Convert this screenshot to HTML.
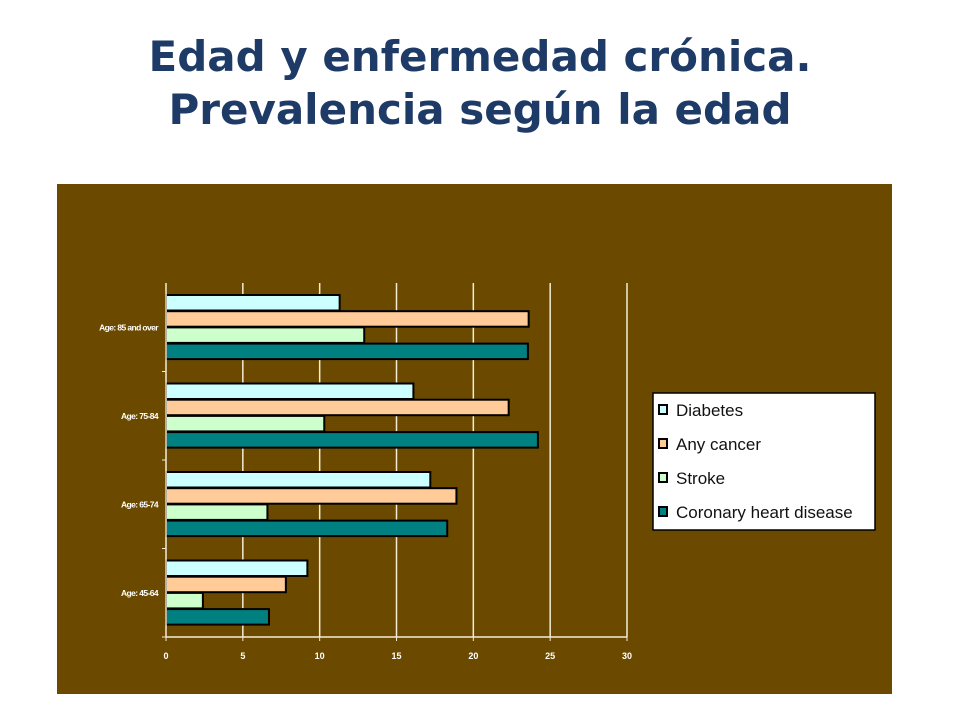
<!DOCTYPE html>
<html><head><meta charset="utf-8"><style>
body{margin:0;width:960px;height:720px;background:#fff;overflow:hidden;font-family:"Liberation Sans",sans-serif}
#title{position:absolute;left:0;top:30px;width:960px;text-align:center;font-family:"DejaVu Sans","Liberation Sans",sans-serif;font-weight:bold;font-size:42px;line-height:53px;color:#1e3a66}
#chart{position:absolute;left:57px;top:184px}
</style></head><body>
<div id="title">Edad y enfermedad crónica.<br>Prevalencia según la edad</div>
<svg id="chart" width="835" height="510" viewBox="57 184 835 510">
<rect x="57" y="184" width="835" height="510" fill="#6b4a00"/>
<g id="grid"></g><g id="bars"></g><g id="axes"></g>
<g>
<rect x="653" y="393" width="222" height="137" fill="#fff" stroke="#000" stroke-width="1.5"/>
<g id="legend"></g></g>
</svg>
<script>
const categories=["Age: 85 and over","Age: 75-84","Age: 65-74","Age: 45-64"];
const seriesNames=["Diabetes","Any cancer","Stroke","Coronary heart disease"];
const diabetes=[11.3,16.1,17.2,9.2];
const cancer=[23.6,22.3,18.9,7.8];
const stroke=[12.9,10.3,6.6,2.4];
const chd=[23.55,24.2,18.3,6.7];
const ticks=[0,5,10,15,20,25,30];
const colors=["#ccffff","#ffcc99","#ccffcc","#008080"];
const series=[diabetes,cancer,stroke,chd];
const NS="http://www.w3.org/2000/svg";
const x0=166,x1=627,y0=283,y1=637,xmax=30;
const xs=v=>x0+(x1-x0)*v/xmax;
const band=(y1-y0)/categories.length;
function mk(t,a,p){const e=document.createElementNS(NS,t);for(const k in a)e.setAttribute(k,a[k]);p.appendChild(e);return e;}
const grid=document.getElementById('grid'),bars=document.getElementById('bars'),axes=document.getElementById('axes'),leg=document.getElementById('legend');
ticks.forEach(t=>{
 if(t>0){const l=mk('line',{x1:xs(t),x2:xs(t),y1:y0,y2:y1,stroke:'#f4ecd8','stroke-width':1.5},grid);
 
 }
 const tx=mk('text',{x:xs(t),y:y1+22,'text-anchor':'middle','font-size':9,'font-weight':'bold',fill:'#fff'},axes);
 tx.textContent=t;
 
 
 mk('line',{x1:xs(t),x2:xs(t),y1:y1,y2:y1+4,stroke:'#f4ecd8'},axes);
});
mk('line',{x1:x0,x2:x0,y1:y0,y2:y1,stroke:'#f4ecd8','stroke-width':1.5},axes);
mk('line',{x1:x0,x2:x1,y1:y1,y2:y1,stroke:'#f4ecd8','stroke-width':1.5},axes);
categories.forEach((c,i)=>{
 const by=y0+i*band;
 mk('line',{x1:x0-4,x2:x0,y1:by+band,y2:by+band,stroke:'#f4ecd8'},axes);
 const tx=mk('text',{x:x0-8,y:by+band/2+3,'text-anchor':'end','font-size':8.5,'font-weight':'bold',fill:'#fff','letter-spacing':'-0.6'},axes);
 tx.textContent=c;
 
 
 series.forEach((s,j)=>{
  const h=15.5,y=by+12+j*16.2;
  const r=mk('rect',{x:x0,y:y,width:xs(s[i])-x0,height:h,fill:colors[j],stroke:'#000','stroke-width':2},bars);
  
  
 });
});
seriesNames.forEach((n,j)=>{
 const y=410+j*34;
 const r=mk('rect',{x:659,y:y-5,width:8,height:9,fill:colors[j],stroke:'#000','stroke-width':2},leg);
 
 
 const t=mk('text',{x:676,y:y+6,'font-size':17,fill:'#111'},leg);
 t.textContent=n;
 
 
});
</script>
</body></html>
